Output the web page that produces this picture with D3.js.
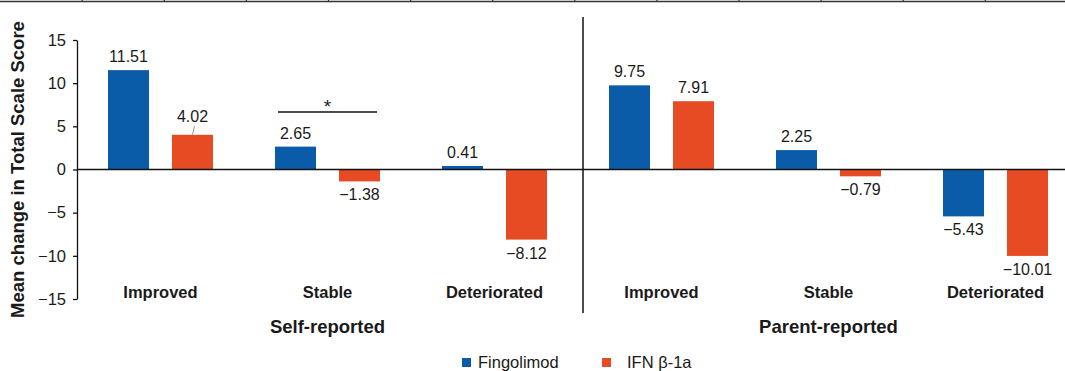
<!DOCTYPE html>
<html>
<head>
<meta charset="utf-8">
<script src="https://cdn.jsdelivr.net/npm/d3@7"></script>
<style>
  html, body { margin: 0; padding: 0; background: #fff; }
  svg { display: block; font-family: "Liberation Sans", Arial, Helvetica, sans-serif; }
</style>
</head>
<body>
<svg id="chart" width="1065" height="371"></svg>
<script>
// Outcome categories, repeated for each reporting source
const outcomes = ["Improved", "Stable", "Deteriorated"];
const sources = ["Self-reported", "Parent-reported"];
const seriesNames = ["Fingolimod", "IFN β-1a"];

// Mean change in total scale score
const fingolimodSelf = [11.51, 2.65, 0.41];
const ifnSelf = [4.02, -1.38, -8.12];
const fingolimodParent = [9.75, 2.25, -5.43];
const ifnParent = [7.91, -0.79, -10.01];

const yTicks = [-15, -10, -5, 0, 5, 10, 15];

const colors = { "Fingolimod": "#0a5ca8", "IFN β-1a": "#e64b23" };
const textColor = "#1a1a1a";

// Flatten into six groups (source × outcome)
const groups = [];
sources.forEach((src, si) => {
  const fVals = si === 0 ? fingolimodSelf : fingolimodParent;
  const iVals = si === 0 ? ifnSelf : ifnParent;
  outcomes.forEach((o, oi) => {
    groups.push({
      key: src + "|" + o, source: src, outcome: o,
      values: [
        { series: "Fingolimod", value: fVals[oi] },
        { series: "IFN β-1a", value: iVals[oi] }
      ]
    });
  });
});

const svg = d3.select("#chart");

const x0 = d3.scaleBand()
  .domain(groups.map(g => g.key))
  .range([77, 1079])
  .paddingInner(0).paddingOuter(0);

const x1 = d3.scaleBand()
  .domain(seriesNames)
  .range([(x0.bandwidth() - 105) / 2, (x0.bandwidth() + 105) / 2])
  .paddingInner(23 / 64)
  .paddingOuter(0);

const y = d3.scaleLinear().domain([-15, 15]).range([299, 40]);

// Thin rule along the top edge with short dividers
svg.append("line")
  .attr("x1", 0).attr("x2", 1065).attr("y1", 1.5).attr("y2", 1.5)
  .attr("stroke", "#333").attr("stroke-width", 1.5);
svg.append("g").selectAll("line")
  .data(d3.range(82.2, 1065, 82.1))
  .join("line")
  .attr("x1", d => d).attr("x2", d => d)
  .attr("y1", 0).attr("y2", 2)
  .attr("stroke", "#333").attr("stroke-width", 1.2);

// Y axis
const yAxis = d3.axisLeft(y)
  .tickValues(yTicks)
  .tickFormat(d => d < 0 ? "\u2212" + Math.abs(d) : String(d))
  .tickSize(4)
  .tickSizeOuter(0)
  .tickPadding(7);

const gy = svg.append("g")
  .attr("transform", "translate(77,0)")
  .call(yAxis);
gy.select(".domain").attr("stroke", "#111").attr("stroke-width", 1.3);
gy.selectAll(".tick line").attr("stroke", "#111").attr("stroke-width", 1.3);
gy.selectAll(".tick text")
  .attr("fill", textColor)
  .style("font-size", "16.5px")
  .style("font-family", "\"Liberation Sans\", Arial, sans-serif");

// Y axis title
svg.append("text")
  .attr("transform", "translate(24," + y(0) + ") rotate(-90)")
  .attr("text-anchor", "middle")
  .attr("fill", textColor)
  .style("font-size", "18.5px")
  .style("font-weight", "bold")
  .text("Mean change in Total Scale Score");

// Bars
const gGroups = svg.append("g").selectAll("g")
  .data(groups)
  .join("g")
  .attr("transform", d => "translate(" + x0(d.key) + ",0)");

gGroups.selectAll("rect")
  .data(d => d.values)
  .join("rect")
  .attr("x", d => x1(d.series))
  .attr("width", x1.bandwidth())
  .attr("y", d => y(Math.max(0, d.value)))
  .attr("height", d => Math.abs(y(d.value) - y(0)))
  .attr("fill", d => colors[d.series]);

// Value labels
const fmt = v => (v < 0 ? "\u2212" : "") + Math.abs(v).toFixed(2);
gGroups.selectAll("text.val")
  .data(d => d.values.map(v => Object.assign({ group: d.key }, v)))
  .join("text")
  .attr("class", "val")
  .attr("x", d => x1(d.series) + x1.bandwidth() / 2)
  .attr("y", d => {
    if (d.value >= 0) {
      // the small IFN bar under "Improved" (self-reported) gets a raised label with a leader
      const lift = (d.group === "Self-reported|Improved" && d.series === "IFN β-1a") ? 13 : 8;
      return y(d.value) - lift;
    }
    return y(d.value) + 19;
  })
  .attr("text-anchor", "middle")
  .attr("fill", textColor)
  .style("font-size", "16px")
  .text(d => fmt(d.value));

// Leader line for the raised label
{
  const g = groups.find(g => g.key === "Self-reported|Improved");
  const v = g.values[1].value;
  const cx = x0(g.key) + x1("IFN β-1a") + x1.bandwidth() / 2;
  svg.append("line")
    .attr("x1", cx).attr("y1", y(v))
    .attr("x2", cx + 2).attr("y2", y(v) - 9)
    .attr("stroke", "#999").attr("stroke-width", 1);
}

// Zero line
svg.append("line")
  .attr("x1", 77).attr("x2", 1065)
  .attr("y1", y(0)).attr("y2", y(0))
  .attr("stroke", "#111").attr("stroke-width", 1.5);

// Divider between self- and parent-reported panels
svg.append("line")
  .attr("x1", 583).attr("x2", 583)
  .attr("y1", 17).attr("y2", 313)
  .attr("stroke", "#111").attr("stroke-width", 1.5);

// Significance bracket on self-reported "Stable"
{
  const g = groups.find(g => g.key === "Self-reported|Stable");
  const xa = x0(g.key) + x1("Fingolimod");
  const xb = x0(g.key) + x1("IFN β-1a") + x1.bandwidth();
  svg.append("line")
    .attr("x1", xa + 3).attr("x2", xb - 3)
    .attr("y1", 112).attr("y2", 112)
    .attr("stroke", "#111").attr("stroke-width", 1.5);
  svg.append("text")
    .attr("x", (xa + xb) / 2)
    .attr("y", 113)
    .attr("text-anchor", "middle")
    .attr("fill", textColor)
    .style("font-size", "19px")
    .text("*");
}

// Outcome labels
svg.append("g").selectAll("text")
  .data(groups)
  .join("text")
  .attr("x", d => x0(d.key) + x0.bandwidth() / 2)
  .attr("y", 298)
  .attr("text-anchor", "middle")
  .attr("fill", textColor)
  .style("font-size", "16.5px")
  .style("font-weight", "bold")
  .text(d => d.outcome);

// Source labels
svg.append("g").selectAll("text")
  .data(sources)
  .join("text")
  .attr("x", s => {
    const mid = groups.find(g => g.source === s && g.outcome === "Stable");
    return x0(mid.key) + x0.bandwidth() / 2;
  })
  .attr("y", 333)
  .attr("text-anchor", "middle")
  .attr("fill", textColor)
  .style("font-size", "18.5px")
  .style("font-weight", "bold")
  .text(s => s);

// Legend
const legendX = [462, 602];
const legend = svg.append("g").selectAll("g")
  .data(seriesNames)
  .join("g")
  .attr("transform", (d, i) => "translate(" + legendX[i] + ",358)");
legend.append("rect")
  .attr("width", 9).attr("height", 9)
  .attr("fill", d => colors[d]);
legend.append("text")
  .attr("x", (d, i) => i === 0 ? 16 : 25)
  .attr("y", 9.5)
  .attr("fill", textColor)
  .style("font-size", "16.5px")
  .text(d => d);
</script>
</body>
</html>
